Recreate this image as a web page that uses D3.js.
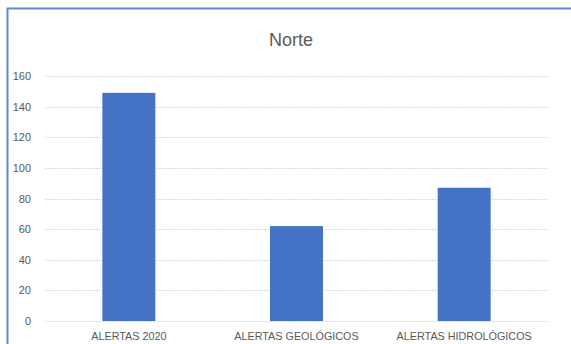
<!DOCTYPE html>
<html lang="es">
<head>
  <meta charset="UTF-8">
  <title>Norte</title>
  <script src="https://d3js.org/d3.v7.min.js"></script>
  <style>
    body { margin: 0; padding: 0; background: #fff; }
    svg { display: block; font-family: "Liberation Sans", Arial, sans-serif; }
  </style>
</head>
<body>
  <div id="chart"></div>
  <script>
    // Data
    const categories = ["ALERTAS 2020", "ALERTAS GEOLÓGICOS", "ALERTAS HIDROLÓGICOS"];
    const values = [149, 62, 87];
    const yTicks = [0, 20, 40, 60, 80, 100, 120, 140, 160];
    const title = "Norte";

    const width = 571, height = 344;
    const margin = { top: 76, right: 23, bottom: 23, left: 45 };

    const svg = d3.create("svg")
      .attr("width", width)
      .attr("height", height);

    // chart frame (blue border, top and left visible)
    svg.append("rect")
      .attr("x", 7.5).attr("y", 8.5)
      .attr("width", width + 10).attr("height", height + 10)
      .attr("fill", "#fff")
      .attr("stroke", "#5b8bd0")
      .attr("stroke-width", 2);

    const x = d3.scaleBand()
      .domain(categories)
      .range([margin.left, width - margin.right])
      .paddingInner(0.684)
      .paddingOuter(0.342);

    const y = d3.scaleLinear()
      .domain([0, 160])
      .range([height - margin.bottom, margin.top]);

    // gridlines
    svg.append("g")
      .selectAll("line")
      .data(yTicks)
      .join("line")
      .attr("x1", margin.left)
      .attr("x2", width - margin.right)
      .attr("y1", d => Math.round(y(d)) + 0.5)
      .attr("y2", d => Math.round(y(d)) + 0.5)
      .attr("stroke", "#d9d9d9")
      .attr("stroke-dasharray", "2,1");

    // y axis labels
    const yAxis = d3.axisLeft(y).tickValues(yTicks).tickSize(0).tickPadding(0);
    svg.append("g")
      .attr("transform", `translate(${margin.left - 14},0)`)
      .call(yAxis)
      .call(g => g.select(".domain").remove())
      .call(g => g.selectAll("text")
        .attr("fill", "#595959")
        .attr("font-size", 11)
        .attr("font-family", "Liberation Sans, Arial, sans-serif"));

    // bars
    svg.append("g")
      .selectAll("rect")
      .data(values)
      .join("rect")
      .attr("x", (d, i) => x(categories[i]))
      .attr("width", x.bandwidth())
      .attr("y", d => y(d))
      .attr("height", d => y(0) - y(d))
      .attr("fill", "#4472c4");

    // x axis labels
    const xAxis = d3.axisBottom(x).tickSize(0).tickPadding(0);
    svg.append("g")
      .attr("transform", `translate(0,${y(0) + 11})`)
      .call(xAxis)
      .call(g => g.select(".domain").remove())
      .call(g => g.selectAll("text")
        .attr("fill", "#595959")
        .attr("font-size", 10.8)
        .attr("font-family", "Liberation Sans, Arial, sans-serif"));

    // title
    svg.append("text")
      .attr("x", 291)
      .attr("y", 46)
      .attr("text-anchor", "middle")
      .attr("fill", "#595959")
      .attr("font-size", 18)
      .text(title);

    document.getElementById("chart").appendChild(svg.node());
  </script>
</body>
</html>
